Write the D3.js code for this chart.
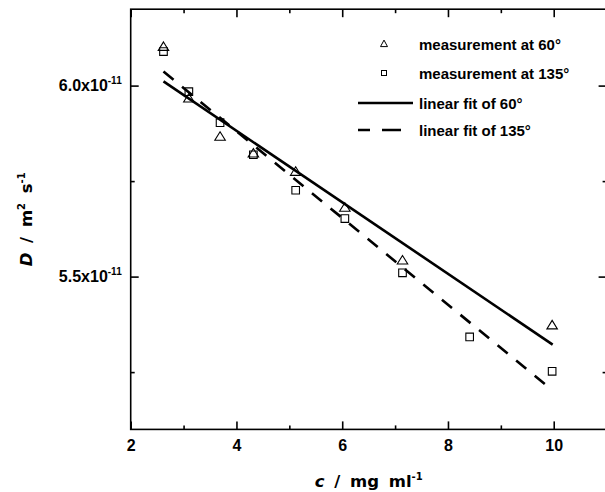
<!DOCTYPE html>
<html><head><meta charset="utf-8">
<script src="https://cdn.jsdelivr.net/npm/d3@7"></script>
<style>body{margin:0;background:#fff}svg{display:block}</style>
</head><body>
<svg id="chart" width="605" height="492"></svg>
<script>
// values of D are in units of 1e-11 m^2 s^-1
const yExponent = "-11";
const conc60 = [2.62, 3.10, 3.69, 4.32, 5.12, 6.05, 7.14, 9.97];
const D60 = [6.101, 5.966, 5.866, 5.822, 5.774, 5.680, 5.542, 5.372];
const conc135 = [2.62, 3.10, 3.69, 4.32, 5.12, 6.05, 7.14, 8.41, 9.97];
const D135 = [6.089, 5.984, 5.903, 5.819, 5.726, 5.652, 5.510, 5.342, 5.252];
const fitConc = [2.62, 9.98];
const fit60 = [6.011, 5.322];
const fit135 = [6.037, 5.202];
const xMajor = [2, 4, 6, 8, 10];
const xMinor = [3, 5, 7, 9];
const yMajor = [5.5, 6.0];
const yMinor = [5.25, 5.75];
const legendLabels = ["measurement at 60°", "measurement at 135°", "linear fit of 60°", "linear fit of 135°"];

const svg = d3.select("#chart");
const x = d3.scaleLinear().domain([2, 11]).range([130.7, 606.6]);
const y = d3.scaleLinear().domain([5.1, 6.2]).range([429.4, 9.2]);
const L = x.range()[0], R = x.range()[1], B = y.range()[0], T = y.range()[1];
const lw = 1.6;

function styleAxis(g) {
  g.select(".domain").remove();
  g.selectAll(".tick line").attr("stroke", "#000").attr("stroke-width", lw);
}

// bottom
svg.append("g").attr("transform", `translate(0,${B})`)
  .call(d3.axisBottom(x).tickValues(xMajor).tickSizeInner(-8).tickSizeOuter(0).tickPadding(10).tickFormat(d3.format("d")))
  .call(styleAxis)
  .call(g => g.selectAll("text").attr("fill", "#000").attr("font-family", "Liberation Sans, Arial, sans-serif").attr("font-weight", "bold").attr("font-size", 16));
svg.append("g").attr("transform", `translate(0,${B})`)
  .call(d3.axisBottom(x).tickValues(xMinor).tickSizeInner(-4).tickSizeOuter(0).tickFormat(""))
  .call(styleAxis);
// top
svg.append("g").attr("transform", `translate(0,${T})`)
  .call(d3.axisTop(x).tickValues(xMajor).tickSizeInner(-8).tickSizeOuter(0).tickFormat(""))
  .call(styleAxis);
svg.append("g").attr("transform", `translate(0,${T})`)
  .call(d3.axisTop(x).tickValues(xMinor).tickSizeInner(-4).tickSizeOuter(0).tickFormat(""))
  .call(styleAxis);
// left
svg.append("g").attr("transform", `translate(${L},0)`)
  .call(d3.axisLeft(y).tickValues(yMajor).tickSizeInner(-8).tickSizeOuter(0).tickPadding(9))
  .call(styleAxis)
  .call(g => g.selectAll("text").each(function(d) {
    const t = d3.select(this).text(null).attr("fill", "#000")
      .attr("font-family", "Liberation Sans, Arial, sans-serif").attr("font-weight", "bold").attr("font-size", 16)
      .attr("dy", "0.33em");
    t.append("tspan").text(d3.format(".1f")(d) + "x10");
    t.append("tspan").attr("font-size", 10).attr("dy", -7).text(yExponent);
  }));
svg.append("g").attr("transform", `translate(${L},0)`)
  .call(d3.axisLeft(y).tickValues(yMinor).tickSizeInner(-4).tickSizeOuter(0).tickFormat(""))
  .call(styleAxis);
// right
svg.append("g").attr("transform", `translate(${R},0)`)
  .call(d3.axisRight(y).tickValues(yMajor).tickSizeInner(-8).tickSizeOuter(0).tickFormat(""))
  .call(styleAxis);
svg.append("g").attr("transform", `translate(${R},0)`)
  .call(d3.axisRight(y).tickValues(yMinor).tickSizeInner(-4).tickSizeOuter(0).tickFormat(""))
  .call(styleAxis);

// frame
svg.append("rect").attr("x", L).attr("y", T).attr("width", R - L).attr("height", B - T)
  .attr("fill", "none").attr("stroke", "#000").attr("stroke-width", lw);

// fit lines
const line = d3.line().x(d => x(d[0])).y(d => y(d[1]));
svg.append("path").datum(d3.zip(fitConc, fit60)).attr("d", line)
  .attr("fill", "none").attr("stroke", "#000").attr("stroke-width", 2.6);
svg.append("path").datum(d3.zip(fitConc, fit135)).attr("d", line)
  .attr("fill", "none").attr("stroke", "#000").attr("stroke-width", 2.6).attr("stroke-dasharray", "13,11");

// markers
const tri = (cx, cy, w, h) => `M${cx},${cy - h * 0.6}L${cx + w / 2},${cy + h * 0.4}L${cx - w / 2},${cy + h * 0.4}Z`;
svg.append("g").selectAll("path").data(d3.zip(conc135, D135)).join("path")
  .attr("d", d => { const cx = x(d[0]), cy = y(d[1]); return `M${cx - 3.8},${cy - 3.8}h7.6v7.6h-7.6Z`; })
  .attr("fill", "none").attr("stroke", "#000").attr("stroke-width", 1.1);
svg.append("g").selectAll("path").data(d3.zip(conc60, D60)).join("path")
  .attr("d", d => tri(x(d[0]), y(d[1]), 10.5, 8.5))
  .attr("fill", "none").attr("stroke", "#000").attr("stroke-width", 1.1);

// legend
const lg = svg.append("g").attr("font-family", "Liberation Sans, Arial, sans-serif").attr("font-weight", "bold").attr("font-size", 15);
const rowY = [44, 73, 103, 130];
lg.selectAll("text").data(legendLabels).join("text")
  .attr("x", 419).attr("y", (d, i) => rowY[i] + 6).attr("fill", "#000").text(d => d);
lg.append("path").attr("d", tri(384, rowY[0], 7, 6.5)).attr("fill", "none").attr("stroke", "#000").attr("stroke-width", 1);
lg.append("rect").attr("x", 381.5).attr("y", rowY[1] - 2.5).attr("width", 5).attr("height", 5).attr("fill", "none").attr("stroke", "#000").attr("stroke-width", 1);
lg.append("line").attr("x1", 358).attr("x2", 413).attr("y1", rowY[2]).attr("y2", rowY[2]).attr("stroke", "#000").attr("stroke-width", 2.6);
lg.append("line").attr("x1", 358).attr("x2", 401).attr("y1", rowY[3]).attr("y2", rowY[3]).attr("stroke", "#000").attr("stroke-width", 2.6).attr("stroke-dasharray", "12,12,19,0");

// axis titles
const tf = "DejaVu Sans, sans-serif";
const xt = svg.append("text").attr("x", (L + R) / 2).attr("y", 487).attr("text-anchor", "middle")
  .attr("font-family", tf).attr("font-weight", "bold").attr("font-size", 16.5).attr("word-spacing", 4).attr("fill", "#000");
xt.append("tspan").attr("font-style", "italic").text("c");
xt.append("tspan").text(" / mg ml");
xt.append("tspan").attr("font-size", 10).attr("dy", -7).text("-1");

const yt = svg.append("text").attr("transform", `translate(32,${(T + B) / 2}) rotate(-90)`).attr("text-anchor", "middle")
  .attr("font-family", tf).attr("font-weight", "bold").attr("font-size", 16.5).attr("word-spacing", 4).attr("fill", "#000");
yt.append("tspan").attr("font-style", "italic").text("D");
yt.append("tspan").text(" / m");
yt.append("tspan").attr("font-size", 10).attr("dy", -7).text("2");
yt.append("tspan").attr("dy", 7).text(" s");
yt.append("tspan").attr("font-size", 10).attr("dy", -7).text("-1");
</script>
</body></html>
